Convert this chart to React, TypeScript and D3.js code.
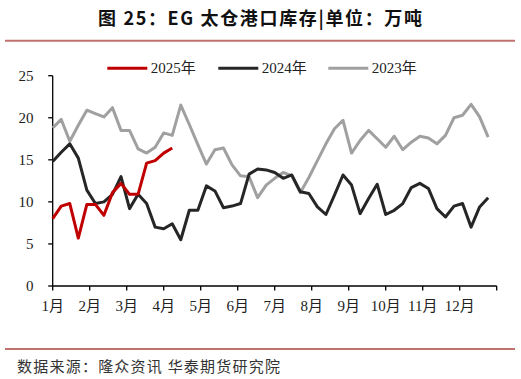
import React from "react";
import * as d3 from "d3";

const monthLabels = ["1月", "2月", "3月", "4月", "5月", "6月", "7月", "8月", "9月", "10月", "11月", "12月"];
const yTicks = [0, 5, 10, 15, 20, 25];

const series2025 = [8.0, 9.5, 9.8, 5.7, 9.7, 9.7, 8.4, 11.1, 12.2, 10.9, 10.9, 14.6, 14.9, 15.8, 16.4];

const series2024 = [
  14.8, 15.9, 16.9, 15.2, 11.4, 9.8, 10.0, 10.9, 13.0, 9.2, 10.9, 9.8, 7.0, 6.8, 7.4, 5.5,
  9.0, 9.0, 11.9, 11.3, 9.3, 9.5, 9.8, 13.3, 13.9, 13.8, 13.5, 12.8, 13.2, 11.2, 11.0, 9.4,
  8.5, 10.8, 13.2, 12.0, 8.6, 10.4, 12.1, 8.5, 9.0, 9.8, 11.7, 12.2, 11.6, 9.2, 8.2, 9.5,
  9.8, 7.0, 9.4, 10.5,
];

const series2023 = [
  18.8, 19.8, 17.2, 19.1, 20.9, 20.5, 20.1, 21.2, 18.5, 18.5, 16.3, 15.8, 16.5, 18.2, 17.9, 21.5,
  19.2, 16.8, 14.5, 16.2, 16.4, 14.4, 13.1, 13.0, 10.5, 12.0, 12.8, 13.5, 13.1, 11.1, 12.9, 14.9,
  16.9, 18.7, 19.7, 15.8, 17.3, 18.5, 17.5, 16.5, 17.8, 16.2, 17.1, 17.8, 17.6, 16.9, 17.9, 20.0,
  20.3, 21.6, 20.1, 17.7,
];

const seriesList = [
  { name: "2025年", values: series2025, color: "#C00000" },
  { name: "2024年", values: series2024, color: "#262626" },
  { name: "2023年", values: series2023, color: "#A0A0A0" },
];

const W = 521;
const H = 379;
const serif = "'Liberation Serif', 'Times New Roman', 'Noto Sans CJK SC', serif";
const cjk = "'Noto Sans CJK SC', sans-serif";

export default function App() {
  const x = d3.scaleLinear().domain([0, 12]).range([52.7, 496.7]);
  const y = d3.scaleLinear().domain([0, 25]).range([286, 75.7]);
  const line = d3
    .line<number>()
    .x((_, i) => x((i * 12) / 52))
    .y((d) => y(d));

  const monthTicks = d3.range(0, 13);
  const legendX = [107.3, 218.3, 328.3];

  return (
    <svg
      width={W}
      height={H}
      style={{ position: "absolute", left: 0, top: 0, background: "#fff" }}
    >
      <rect x={0} y={0} width={W} height={H} fill="#fff" />
      <text
        x={260}
        y={17}
        textAnchor="middle"
        dominantBaseline="central"
        fontFamily={cjk}
        fontWeight="bold"
        fontSize={18}
        fill="#111"
        textLength={324}
        lengthAdjust="spacing"
      >
        图 25：EG 太仓港口库存|单位：万吨
      </text>
      <line x1={5} x2={515} y1={40.7} y2={40.7} stroke="#C0706E" strokeWidth={2} />
      <line x1={5} x2={515} y1={349} y2={349} stroke="#C0706E" strokeWidth={2} />
      <text
        x={17}
        y={365}
        dominantBaseline="central"
        fontFamily={cjk}
        fontSize={15}
        fill="#333"
        textLength={263}
        lengthAdjust="spacing"
      >
        数据来源：隆众资讯 华泰期货研究院
      </text>

      {/* y axis */}
      <line x1={x(0)} x2={x(0)} y1={y(25)} y2={y(0)} stroke="#000" strokeWidth={1.3} />
      {yTicks.map((t) => (
        <g key={t}>
          <line x1={x(0) - 4.5} x2={x(0)} y1={y(t)} y2={y(t)} stroke="#000" strokeWidth={1.3} />
          <text
            x={33.5}
            y={y(t)}
            textAnchor="end"
            dominantBaseline="central"
            fontFamily={serif}
            fontSize={15}
            fill="#222"
          >
            {t}
          </text>
        </g>
      ))}

      {/* x axis */}
      <line x1={x(0)} x2={x(12)} y1={y(0)} y2={y(0)} stroke="#000" strokeWidth={1.3} />
      {monthTicks.map((m) => (
        <line key={m} x1={x(m)} x2={x(m)} y1={y(0)} y2={y(0) + 4.5} stroke="#000" strokeWidth={1.3} />
      ))}
      {monthLabels.map((lab, i) => (
        <text
          key={lab}
          x={x(i)}
          y={305.5}
          textAnchor="middle"
          dominantBaseline="central"
          fontFamily={serif}
          fontSize={15}
          fill="#222"
        >
          {lab}
        </text>
      ))}

      {/* lines: draw 2023, 2024, then 2025 on top */}
      {[...seriesList].reverse().map((s) => (
        <path
          key={s.name}
          d={line(s.values) || ""}
          fill="none"
          stroke={s.color}
          strokeWidth={3}
          strokeLinejoin="round"
        />
      ))}

      {/* legend */}
      {seriesList.map((s, i) => (
        <g key={s.name}>
          <line
            x1={legendX[i]}
            x2={legendX[i] + 40}
            y1={68.3}
            y2={68.3}
            stroke={s.color}
            strokeWidth={3}
          />
          <text
            x={legendX[i] + 43.5}
            y={68.3}
            dominantBaseline="central"
            fontFamily={serif}
            fontSize={15}
            fill="#222"
          >
            {s.name}
          </text>
        </g>
      ))}
    </svg>
  );
}
